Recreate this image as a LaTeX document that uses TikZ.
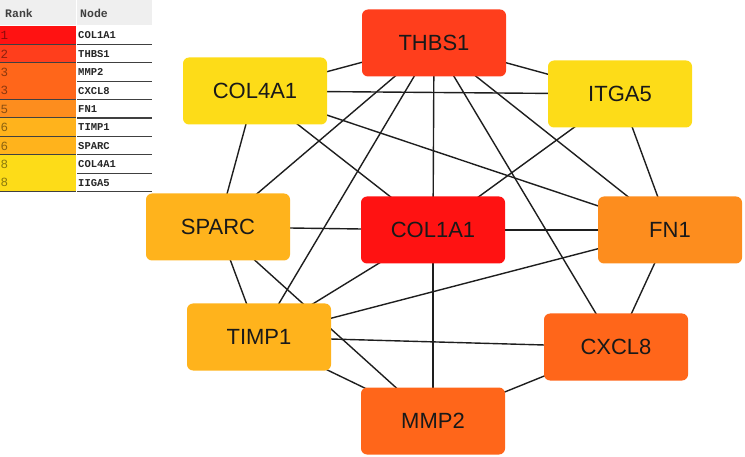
\documentclass[tikz,border=0pt]{standalone}
\usepackage{fontspec}
\setmainfont{Liberation Sans}
\newfontfamily\tabfont{Liberation Mono}
\usetikzlibrary{backgrounds}
\definecolor{cRa}{HTML}{FF1212}
\definecolor{cRb}{HTML}{FF3E1C}
\definecolor{cRc}{HTML}{FF661A}
\definecolor{cRd}{HTML}{FD8D1E}
\definecolor{cRe}{HTML}{FFB31C}
\definecolor{cRf}{HTML}{FDDC18}
\definecolor{edgecol}{HTML}{1E1E1E}
\definecolor{hdrgray}{HTML}{EFEFEF}
\tikzset{
  gene/.style={rounded corners=6pt, minimum width=144pt, minimum height=67pt,
    inner sep=0pt, text=black!90, font=\fontsize{22}{22}\selectfont},
  link/.style={draw=edgecol, line width=1.4pt},
  rankcell/.style={fill=#1, draw=none, minimum width=76pt, minimum height=18.4pt,
    anchor=north west, inner sep=0pt},
  ranktxt/.style={anchor=west, inner sep=0pt, font=\tabfont\fontsize{12.5}{13}\selectfont, text=#1},
  nametxt/.style={anchor=west, inner sep=0pt, font=\tabfont\bfseries\fontsize{10.5}{11}\selectfont, text=black!85},
  hdrtxt/.style={anchor=west, inner sep=0pt, font=\tabfont\bfseries\fontsize{11.5}{12}\selectfont, text=black!75},
  rowline/.style={draw=black!75, line width=1.2pt}
}
\begin{document}
\begin{tikzpicture}[x=1pt,y=-1pt]
\useasboundingbox (0,0) rectangle (745,457);
% ---- table ----
\fill[hdrgray] (0,0) rectangle (152,25);
\draw[white, line width=1.5pt] (76.5,0) -- (76.5,25);
\node[hdrtxt] (hrank) at (5,13) {Rank};
\node[hdrtxt] (hnode) at (80,13) {Node};
\foreach \i/\r/\c/\g in {0/1/cRa/COL1A1, 1/2/cRb/THBS1, 2/3/cRc/MMP2, 3/3/cRc/CXCL8,
  4/5/cRd/FN1, 5/6/cRe/TIMP1, 6/6/cRe/SPARC, 7/8/cRf/COL4A1, 8/8/cRf/IIGA5}{
  \node[rankcell=\c] (cell\i) at (0,{26+18.4*\i}) {};
  \node[ranktxt=\c!55!black] (rk\i) at (0.5,{26+18.4*\i+9.5}) {\r};
  \node[nametxt] (nm\i) at (78,{26+18.4*\i+9.5}) {\g};
  \coordinate (la\i) at (0,{26+18.4*(\i+1)});
  \coordinate (lb\i) at (152,{26+18.4*(\i+1)});
  \draw[rowline] (la\i) -- (lb\i);
}
\draw[white, line width=1.2pt] (76.5,26) -- (76.5,192);
% ---- network nodes ----
\node[gene, fill=cRb] (THBS1) at (434,43) {THBS1};
\node[gene, fill=cRf] (COL4A1) at (255,91) {COL4A1};
\node[gene, fill=cRf] (ITGA5) at (620,94) {ITGA5};
\node[gene, fill=cRe] (SPARC) at (218,227) {SPARC};
\node[gene, fill=cRa] (COL1A1) at (433,230) {COL1A1};
\node[gene, fill=cRd] (FN1) at (670,230) {FN1};
\node[gene, fill=cRe] (TIMP1) at (259,337) {TIMP1};
\node[gene, fill=cRc] (CXCL8) at (616,347) {CXCL8};
\node[gene, fill=cRc] (MMP2) at (433,421) {MMP2};
% ---- edges ----
\begin{scope}[on background layer]
\foreach \a/\b in {THBS1/COL4A1, THBS1/ITGA5, THBS1/SPARC, THBS1/TIMP1, THBS1/COL1A1,
  THBS1/FN1, THBS1/CXCL8, COL4A1/ITGA5, COL4A1/FN1, COL4A1/SPARC, COL4A1/COL1A1,
  ITGA5/COL1A1, ITGA5/FN1, SPARC/COL1A1, SPARC/TIMP1, SPARC/MMP2, TIMP1/COL1A1,
  TIMP1/FN1, TIMP1/CXCL8, TIMP1/MMP2, COL1A1/FN1, COL1A1/MMP2, FN1/CXCL8, CXCL8/MMP2}{
  \draw[link] (\a.center) -- (\b.center);
}
\end{scope}
\end{tikzpicture}
\end{document}
